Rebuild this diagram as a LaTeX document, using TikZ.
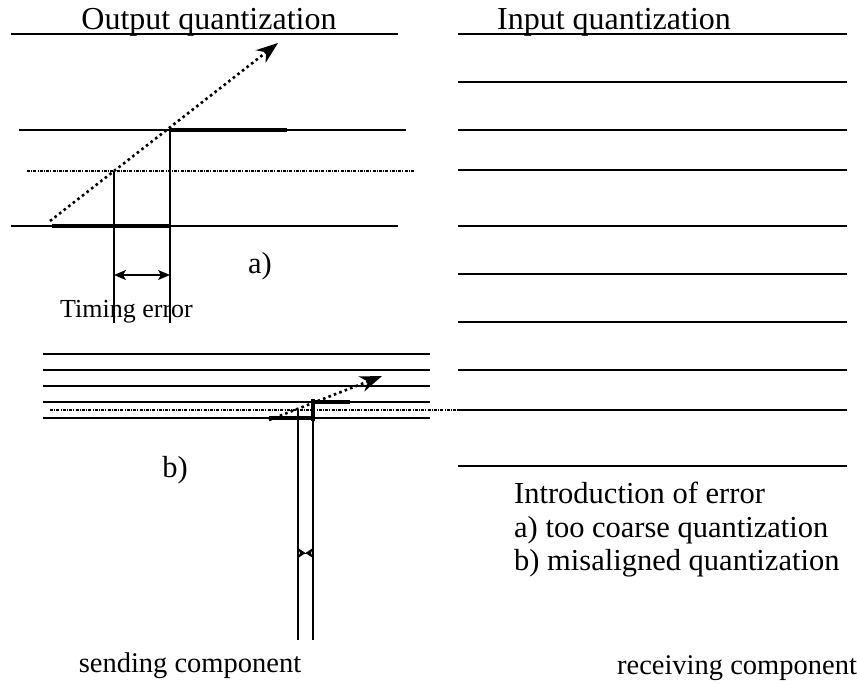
\documentclass[tikz,border=0pt]{standalone}
\usepackage{fontspec}
\setmainfont{Liberation Serif}
\usepackage{tikz}
\usetikzlibrary{arrows.meta,positioning}

\tikzset{
  level/.style={line width=1.2pt},
  hold/.style={line width=4pt},
  threshold/.style={line width=1.6pt, dash pattern=on 3pt off 1.2pt on 1pt off 1.2pt},
  ramp/.style={line width=2.6pt, dash pattern=on 2.6pt off 3.2pt,
    -{Stealth[length=22pt,width=16pt,inset=7pt]}},
  marker/.style={line width=1.2pt},
  gap/.style={line width=1.2pt, {Stealth[length=12pt,width=10pt,inset=3pt]}-{Stealth[length=12pt,width=10pt,inset=3pt]}},
  tinygap/.style={line width=1pt, {Stealth[reversed,length=7.5pt,width=10pt,inset=2pt]}-{Stealth[reversed,length=7.5pt,width=10pt,inset=2pt]}},
  title/.style={inner sep=0pt, font=\fontsize{32}{34}\selectfont},
  caption/.style={inner sep=0pt, font=\fontsize{30.5}{33}\selectfont},
  smallcaption/.style={inner sep=0pt, font=\fontsize{26}{28}\selectfont},
  compcaption/.style={inner sep=0pt, font=\fontsize{28.5}{30}\selectfont}
}

\begin{document}
\begin{tikzpicture}[x=1pt, y=-1pt]
\useasboundingbox (0,0) rectangle (857,683);

% titles
\node[title, anchor=base] (outtitle) at (209,29) {Output quantization};
\node[title, anchor=base] (intitle) at (614,29) {Input quantization};

% a) coarse output levels
\coordinate (aTopL) at (11,34);   \coordinate (aTopR) at (398,34);
\coordinate (aHiL) at (19,130);   \coordinate (aHiR) at (406,130);
\coordinate (aMidL) at (27,171);  \coordinate (aMidR) at (415,171);
\coordinate (aLoL) at (11,226);   \coordinate (aLoR) at (398,226);
\draw[level] (aTopL) -- (aTopR);
\draw[level] (aHiL) -- (aHiR);
\draw[threshold] (aMidL) -- (aMidR);
\draw[level] (aLoL) -- (aLoR);

% a) held output and ramp
\coordinate (aStart) at (52,226);
\coordinate (aStep) at (170,226);
\coordinate (aStepTop) at (170,130);
\coordinate (aHoldEnd) at (287,130);
\coordinate (aCross) at (114,171);
\draw[hold] (aStart) -- (aStep);
\draw[hold] (aStepTop) -- (aHoldEnd);
\draw[marker] (aCross) -- (114,323) coordinate (aCrossFoot);
\draw[marker] (aStepTop) -- (170,323) coordinate (aStepFoot);
\draw[ramp] (50,221) coordinate (aRampFrom) -- (278,43) coordinate (aRampTo);
\draw[gap] (114,275) coordinate (aGapL) -- (170,275) coordinate (aGapR);
\node[caption, anchor=base] (alabel) at (260,273) {a)};
\node[smallcaption, anchor=base west] (timing) at (60,317) {Timing error};

% b) misaligned levels
\foreach \yy/\nm in {354/1,370/2,386/3,402/4,418/5}{
  \draw[level] (43,\yy) coordinate (bL\nm) -- (430,\yy) coordinate (bR\nm);
}
\draw[threshold] (50,410) coordinate (bThrL) -- (458,410) coordinate (bThrR);
\coordinate (bStart) at (269,418);
\coordinate (bStep) at (313,418);
\coordinate (bStepTop) at (313,402);
\coordinate (bHoldEnd) at (350,402);
\draw[hold] (bStart) -- (bStep);
\draw[hold] (bStepTop) -- (bHoldEnd);
\draw[hold] (313,399) -- (313,421);
\draw[marker] (298,410) coordinate (bCross) -- (298,640) coordinate (bCrossFoot);
\draw[marker] (bStepTop) -- (313,640) coordinate (bStepFoot);
\draw[ramp] (269,420) coordinate (bRampFrom) -- (382,376) coordinate (bRampTo);
\draw[tinygap] (298,553) coordinate (bGapL) -- (313,553) coordinate (bGapR);
\node[caption, anchor=base] (blabel) at (175,477) {b)};

% input quantization levels
\foreach \yy in {34,82,130,170,226,274,322,370,410,466}{
  \draw[level] (458,\yy) -- (847,\yy);
}

% legend
\node[caption, anchor=base west] (legend) at (514,503) {Introduction of error};
\node[caption, anchor=base west] (legendA) at (514,537) {a) too coarse quantization};
\node[caption, anchor=base west] (legendB) at (514,570) {b) misaligned quantization};

% components
\node[compcaption, anchor=base] (sender) at (190,672) {sending component};
\node[compcaption, anchor=base] (receiver) at (737,674) {receiving component};
\end{tikzpicture}
\end{document}
